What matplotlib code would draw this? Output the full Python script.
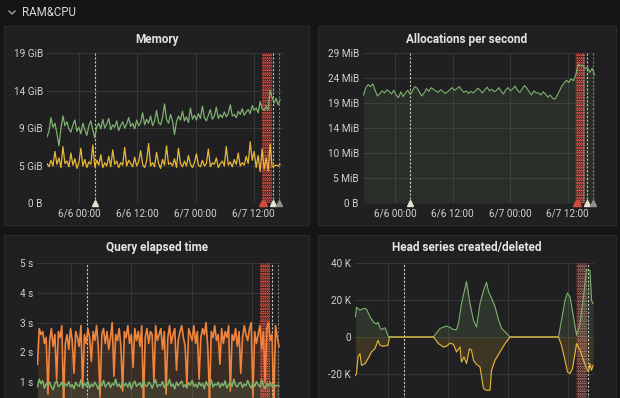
import matplotlib as mpl
import matplotlib.pyplot as plt
import numpy as np
from matplotlib.patches import Rectangle
from matplotlib.lines import Line2D

mpl.rcParams['font.family'] = ['Roboto', 'DejaVu Sans']

# ---- data (hours since 6/6 00:00) ----
tick_hours = [0, 12, 24, 36]
tick_labels = ['6/6 00:00', '6/6 12:00', '6/7 00:00', '6/7 12:00']

# Memory, GiB
mem_green = [
    8.2, 8.9, 10.6, 9.4, 9.9, 8.6, 7.1, 9.3, 10.8, 9.6, 10.1, 9.2, 8.8, 9.7, 10.3, 8.9, 9.4, 8.6, 9.9, 9.1,
    8.4, 9.6, 10.2, 9.0, 8.1, 9.5, 9.9, 9.2, 10.4, 9.3, 9.8, 10.5, 9.1, 9.7, 9.4, 10.2, 9.0, 9.6, 10.1, 9.3,
    9.8, 10.6, 9.5, 9.9, 9.2, 10.3, 9.6, 10.0, 11.2, 9.7, 10.4, 9.9, 10.8, 9.6, 10.2, 11.5, 10.0, 9.7, 10.6, 12.3,
    10.4, 9.9, 11.0, 10.2, 8.5, 10.1, 10.8, 10.3, 11.4, 10.2, 10.7, 10.0, 11.8, 10.4, 10.9, 10.3, 11.1, 10.5, 12.0, 10.6,
    10.2, 10.9, 11.6, 10.4, 10.8, 11.9, 10.5, 11.0, 10.6, 11.3, 10.7, 11.1, 12.2, 10.8, 11.0, 10.6, 11.4, 11.0, 11.7, 10.9,
    11.3, 11.6, 11.1, 12.1, 11.5, 11.8, 11.2, 12.6, 11.7, 11.5, 12.0, 11.6, 14.0, 13.1, 12.4, 13.0, 12.2, 12.8,
]
mem_yellow = [
    4.9, 4.5, 5.3, 4.6, 6.4, 4.8, 5.6, 4.4, 7.0, 4.9, 5.2, 4.5, 6.2, 4.7, 5.5, 4.3, 5.0, 6.8, 4.6, 5.4,
    4.4, 5.1, 4.8, 7.2, 4.5, 5.3, 4.7, 6.0, 4.4, 5.0, 4.6, 5.8, 4.5, 6.6, 4.8, 5.2, 4.4, 5.0, 4.7, 6.9,
    4.6, 5.3, 4.9, 4.5, 5.7, 4.6, 5.1, 6.5, 4.8, 4.4, 5.2, 7.4, 4.6, 5.0, 4.5, 6.3, 4.9, 4.3, 5.4, 4.7,
    7.1, 4.8, 5.0, 4.6, 5.5, 4.4, 6.8, 4.9, 4.5, 5.2, 4.6, 5.9, 4.8, 4.4, 5.0, 6.1, 4.7, 4.5, 5.3, 4.6,
    4.9, 6.7, 4.5, 5.0, 4.8, 5.6, 4.4, 4.9, 5.2, 4.6, 7.0, 4.7, 5.1, 4.5, 5.4, 4.8, 6.2, 4.6, 5.0, 4.7,
    5.8, 4.9, 7.6, 5.3, 6.4, 4.4, 5.9, 3.9, 6.7, 4.2, 5.6, 4.0, 7.3, 4.5, 4.6, 4.7, 4.6, 4.8,
]

# Allocations per second, MiB
alloc = [
    20.6, 22.0, 22.6, 22.2, 22.7, 21.5, 20.4, 20.9, 21.4, 21.0, 21.6, 21.3, 20.8, 21.5, 20.6, 20.1, 21.2, 20.3, 21.0, 21.5,
    20.7, 21.4, 22.2, 21.9, 21.1, 20.4, 21.0, 21.8, 21.3, 22.0, 21.7, 21.4, 21.1, 21.6, 21.3, 20.9, 21.2, 21.6, 22.0, 21.5,
    21.8, 22.2, 21.6, 21.1, 21.4, 20.9, 21.3, 21.0, 21.4, 21.9, 21.5, 21.0, 21.6, 22.1, 21.4, 21.7, 21.2, 21.5, 22.0, 21.3,
    20.8, 21.6, 22.0, 21.4, 21.8, 22.3, 21.5, 21.1, 21.8, 22.4, 21.9, 21.2, 20.6, 21.4, 21.0, 21.0, 20.6, 21.2, 20.8, 20.2,
    20.6, 20.0, 19.8, 20.5, 21.4, 22.3, 22.9, 23.4, 23.0, 23.7, 23.3, 24.5, 26.5, 26.2, 26.3, 25.6, 25.9, 24.9, 25.7, 24.4,
]

# Query elapsed time, seconds
query_orange = [
    1.6, 2.8, 2.6, 2.7, 2.3, 2.5, 0.6, 2.4, 2.8, 2.2, 2.6, 1.1, 2.7, 2.5, 2.9, 0.4, 2.3, 2.6, 2.1, 2.8,
    2.4, 1.3, 2.7, 2.5, 2.2, 2.9, 0.8, 2.6, 2.3, 2.8, 2.5, 1.7, 2.7, 2.4, 2.9, 2.2, 0.5, 2.6, 2.8, 2.3,
    2.7, 2.1, 2.5, 3.0, 1.2, 2.6, 2.4, 2.8, 2.2, 0.7, 2.7, 2.5, 2.9, 2.3, 2.6, 1.5, 2.8, 2.4, 2.7, 2.2,
    2.9, 0.3, 2.5, 2.8, 2.3, 2.7, 2.6, 1.0, 2.9, 2.4, 2.6, 2.8, 2.1, 2.7, 0.6, 2.5, 2.9, 2.3, 2.6, 2.8,
    1.4, 2.4, 2.7, 2.9, 2.5, 2.2, 0.9, 2.8, 2.6, 2.4, 2.9, 2.3, 2.7, 1.1, 2.5, 2.8, 2.6, 3.0, 2.2, 0.4,
    2.7, 2.5, 2.9, 2.4, 2.6, 1.6, 2.8, 2.3, 2.7, 2.5, 2.9, 0.7, 2.6, 2.4, 2.8, 2.2, 2.7, 1.3, 2.5, 2.9,
    2.6, 2.4, 2.8, 3.0, 0.5, 2.7, 2.3, 2.6, 2.9, 2.1, 2.7, 1.0, 2.8, 3.0, 2.4, 2.6, 0.3, 2.9, 2.5, 2.2,
]
query_green = [
    0.85, 1.10, 0.95, 1.05, 0.80, 0.95, 0.90, 1.00, 0.85, 0.75, 0.95, 1.05, 0.85, 0.90, 1.00, 0.80, 0.95, 0.88, 1.02, 0.84,
    0.92, 0.78, 1.00, 0.90, 0.86, 1.08, 0.82, 0.96, 0.88, 1.04, 0.80, 0.94, 0.86, 1.00, 0.90, 0.76, 0.98, 0.88, 1.06, 0.84,
    0.92, 1.00, 0.82, 0.96, 0.90, 1.10, 0.86, 0.94, 0.80, 1.02, 0.88, 0.96, 0.84, 1.00, 0.78, 0.94, 1.04, 0.86, 0.92, 0.98,
    0.82, 1.06, 0.90, 0.86, 1.00, 0.94, 0.80, 0.96, 1.08, 0.84, 0.92, 0.88, 1.02, 0.82, 0.96, 0.90, 1.10, 0.86, 0.94, 0.78,
    1.00, 0.88, 0.96, 1.04, 0.84, 0.92, 0.80, 0.98, 0.90, 1.06, 0.86, 0.94, 0.82, 1.00, 0.88, 0.96, 0.78, 1.02, 0.90, 0.86,
    1.08, 0.84, 0.94, 0.90, 1.00, 0.82, 0.96, 0.88, 1.04, 0.80, 0.92, 0.98, 0.86, 1.10, 0.90, 0.84, 0.96, 1.00, 0.82, 0.94,
    0.88, 1.06, 0.90, 0.80, 0.98, 0.86, 1.02, 0.92, 0.84, 1.08, 0.90, 0.78, 0.96, 0.88, 1.00, 0.84, 0.94, 0.86, 0.90, 0.88,
]

# Head series created / deleted, thousands
created_t = [-6.5, -6.3, -5.6, -4.9, -4.3, -3.6, -2.9, -2.3, -2.0, -1.6, -1.3, -0.6, 0.1,
             9.1, 10.4, 11.7, 12.4, 13.1, 13.7, 14.1, 14.7, 15.7, 16.4, 17.1, 17.7, 18.4, 19.1,
             19.7, 20.1, 20.7, 21.4, 22.1, 22.7, 23.7, 24.4,
             34.1, 34.7, 35.4, 35.9, 36.4, 37.1, 37.7, 38.4, 39.1, 39.7, 40.4, 40.7, 41.0]
created_k = [11, 16, 14.5, 15.5, 15, 11, 8, 7, 8, 5, 4, 5, 0,
             0, 4.6, 5.9, 5.2, 4, 4, 7.5, 18, 30, 18, 9, 5.4, 18, 25,
             29.5, 24.6, 21, 16.5, 9.3, 4.8, 2, 0,
             0, 9, 19.8, 23.8, 21.6, 10.8, 1, 7.3, 21.6, 36.4, 36, 19.8, 18]
deleted_t = [-6.5, -6.3, -6.0, -5.6, -5.3, -4.6, -4.0, -3.3, -2.6, -2.0, -1.6, -1.0, 0.0, 0.3,
             9.1, 10.1, 11.1, 11.7, 12.4, 13.1, 13.7, 14.4, 14.7, 15.2, 15.7, 16.3, 16.7, 17.1,
             17.7, 18.4, 19.1, 19.7, 20.4, 20.7, 21.4, 22.4, 23.4, 24.4,
             34.1, 34.7, 35.4, 35.9, 36.4, 36.9, 37.4, 37.7, 38.4, 39.1, 39.7, 40.1, 40.4, 40.7, 41.0]
deleted_k = [-20.7, -19.8, -10.8, -9, -15.3, -14.4, -11.7, -8.1, -6.3, -1.8, -4.5, -5, -4.5, 0,
             0, -3.6, -5.4, -5, -3.3, -4, -8.1, -5.4, -13.5, -10.8, -14.4, -6.3, -7.2, -12.6,
             -14.8, -16.2, -27.9, -28.8, -28.8, -18, -12.6, -8.1, -3.6, 0,
             0, -4.5, -12.6, -18.9, -19.8, -17, -9, -3.6, -7.2, -12.6, -17, -18.9, -14.4, -18, -15.3]

# annotations (hours)
ann_white = [3.2, 40.0]
ann_gray = [41.2]
ann_red = [37.7, 38.1, 38.5, 38.9, 39.3]
ann_red_light = [37.9, 38.3, 38.7, 39.1, 39.5]

# ---- style ----
W, H = 620, 398
BG = '#151516'
PANEL = '#202022'
GRID = '#363638'
TXT = '#d0d1d2'
GREEN = '#7eb26d'
YELLOW = '#eab839'
ORANGE = '#ef843c'
RED = '#c8463c'

fig = plt.figure(figsize=(W / 100, H / 100), dpi=100, facecolor=BG)


def px_rect(x0, y0, x1, y1):
    return [x0 / W, 1 - y1 / H, (x1 - x0) / W, (y1 - y0) / H]


for (x0, y0, x1, y1) in [(4, 26, 309, 225), (318, 26, 616, 225), (4, 235, 309, 410), (318, 235, 616, 410)]:
    r = px_rect(x0, y0, x1, y1)
    fig.patches.append(Rectangle((r[0], r[1]), r[2], r[3], transform=fig.transFigure,
                                 facecolor=PANEL, edgecolor='#2a2a2c', lw=0.8, zorder=-10))

# header
fig.add_artist(Line2D([9 / W, 12 / W, 15 / W], [1 - 11 / H, 1 - 14 / H, 1 - 11 / H],
                      transform=fig.transFigure, color='#a0a0a0', lw=1.0))
fig.text(22 / W, 1 - 12 / H, 'RAM&CPU', color='#d8d9da', fontsize=8.3, ha='left', va='center')

titles = [('Memory', 157, 39), ('Allocations per second', 467, 39),
          ('Query elapsed time', 157, 248), ('Head series created/deleted', 467, 248)]
for txt, x, y in titles:
    fig.text(x / W, 1 - y / H, txt, color='#e4e4e4', fontsize=8.5, fontweight='bold',
             ha='center', va='center')


def setup(ax, xlim, yticks, ylabels, ylim, markers=True):
    ax.set_facecolor('none')
    for s in ax.spines.values():
        s.set_visible(False)
    ax.set_xlim(*xlim)
    ax.set_ylim(*ylim)
    ax.set_xticks(tick_hours)
    ax.set_xticklabels(tick_labels)
    ax.set_yticks(yticks)
    ax.set_yticklabels(ylabels)
    ax.tick_params(length=0, labelsize=7.2, colors=TXT, pad=3)
    ax.tick_params(axis='x', pad=4, labelbottom=markers)
    ax.grid(True, color=GRID, lw=0.7)
    ax.set_axisbelow(True)
    # annotations
    ax.axvspan(min(ann_red) - 0.1, max(ann_red_light) + 0.1, color='#8a2c28', alpha=0.35, lw=0)
    for h in ann_red:
        ax.axvline(h, color=RED, lw=0.8, ls=(0, (2, 1.5)), alpha=0.75)
    for h in ann_red_light:
        ax.axvline(h, color='#e8c4bc', lw=0.6, ls=(0, (1.5, 1.5)), alpha=0.6)
    for h in ann_white:
        ax.axvline(h, color='#e8e0d0', lw=0.8, ls=(0, (2, 1.5)), alpha=0.85)
    for h in ann_gray:
        ax.axvline(h, color='#8a8a8a', lw=0.8, ls=(0, (2, 1.5)), alpha=0.85)
    if markers:
        y0 = ylim[0]
        ax.plot(ann_white, [y0] * len(ann_white), '^', color='#e8e0d0', ms=5, clip_on=False, zorder=5)
        ax.plot(ann_gray, [y0] * len(ann_gray), '^', color='#909090', ms=5, clip_on=False, zorder=5)
        ax.plot(ann_red[:2], [y0] * 2, '^', color='#d04a40', ms=5, clip_on=False, zorder=5)


# Memory
GIB5 = 5e9 / 2 ** 30
ax1 = fig.add_axes(px_rect(47, 53, 283, 203))
setup(ax1, (-6.6, 42.0), [0, GIB5, 2 * GIB5, 3 * GIB5, 4 * GIB5],
      ['0 B', '5 GiB', '9 GiB', '14 GiB', '19 GiB'], (0, 4 * GIB5))
t_mem = np.linspace(-6.6, 41.4, len(mem_green))
ax1.plot(t_mem, mem_green, color=GREEN, lw=0.9)
ax1.plot(t_mem, mem_yellow, color=YELLOW, lw=0.9)

# Allocations
MIB5 = 5e6 / 2 ** 20
ax2 = fig.add_axes(px_rect(363, 53, 595, 203))
setup(ax2, (-6.7, 41.7), [MIB5 * k for k in range(7)],
      ['0 B', '5 MiB', '10 MiB', '14 MiB', '19 MiB', '24 MiB', '29 MiB'], (0, 6 * MIB5))
t_alloc = np.linspace(-6.6, 41.6, len(alloc))
ax2.fill_between(t_alloc, alloc, color=GREEN, alpha=0.1, lw=0)
ax2.plot(t_alloc, alloc, color=GREEN, lw=0.8)

# Query elapsed time
ax3 = fig.add_axes(px_rect(37, 263, 280, 412))
setup(ax3, (-6.8, 41.6), [1, 2, 3, 4, 5], ['1 s', '2 s', '3 s', '4 s', '5 s'], (0, 5),
      markers=False)
t_q = np.linspace(-6.7, 41.4, len(query_orange))
ax3.fill_between(t_q, query_orange, color=ORANGE, alpha=0.12, lw=0)
ax3.plot(t_q, query_orange, color=ORANGE, lw=1.2)
ax3.fill_between(t_q, query_green, color=GREEN, alpha=0.12, lw=0)
ax3.plot(t_q, query_green, color=GREEN, lw=1.1)

# Head series
ax4 = fig.add_axes(px_rect(355, 263, 594, 411))
setup(ax4, (-6.6, 41.2), [-20, 0, 20, 40], ['-20 K', '0', '20 K', '40 K'], (-40, 40),
      markers=False)
ax4.fill_between(created_t, created_k, color=GREEN, alpha=0.15, lw=0)
ax4.plot(created_t, created_k, color=GREEN, lw=0.8)
ax4.fill_between(deleted_t, deleted_k, color=YELLOW, alpha=0.15, lw=0)
ax4.plot(deleted_t, deleted_k, color=YELLOW, lw=0.8)

fig.savefig('out.png', dpi=100, facecolor=BG)
